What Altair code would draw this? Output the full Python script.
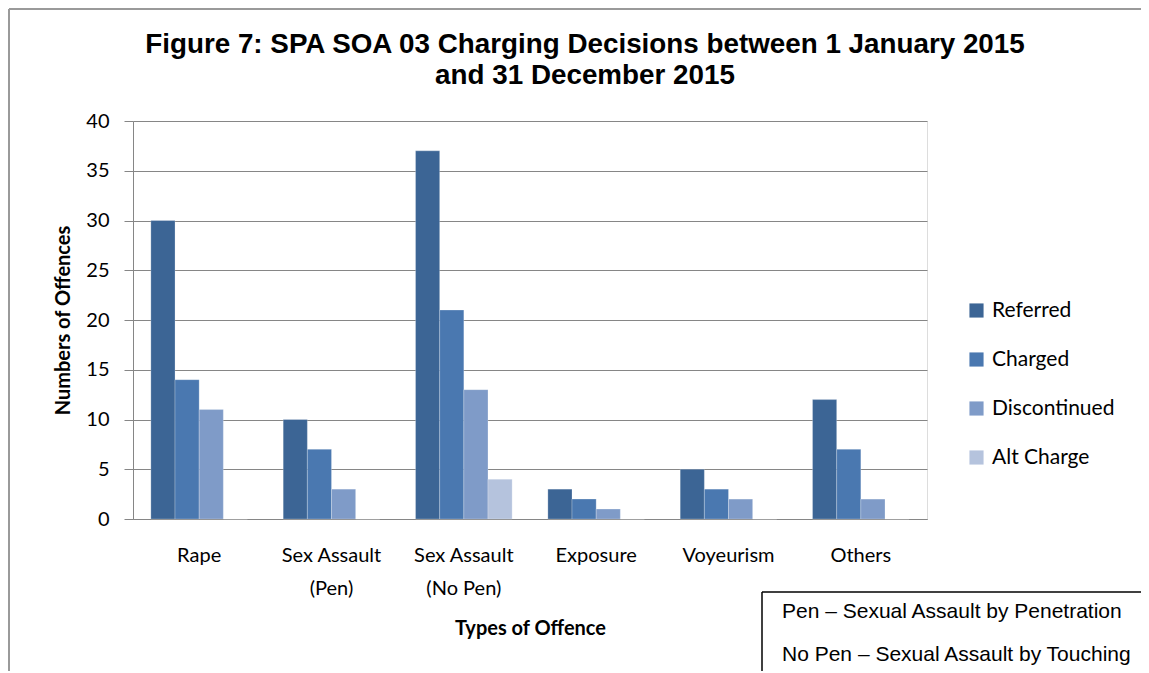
import altair as alt
import pandas as pd

categories = ["Rape", "Sex Assault|(Pen)", "Sex Assault|(No Pen)", "Exposure", "Voyeurism", "Others"]
series = ["Referred", "Charged", "Discontinued", "Alt Charge"]
referred = [30, 10, 37, 3, 5, 12]
charged = [14, 7, 21, 2, 3, 7]
discontinued = [11, 3, 13, 1, 2, 2]
alt_charge = [0, 0, 4, 0, 0, 0]
colors = ["#3C6595", "#4A78B0", "#7F9BC8", "#B5C3DD"]
title_lines = ["Figure 7: SPA SOA 03 Charging Decisions between 1 January 2015",
               "and 31 December 2015"]
notes = ["Pen \u2013 Sexual Assault by Penetration", "No Pen \u2013 Sexual Assault by Touching"]

rows = []
for s, vals in zip(series, [referred, charged, discontinued, alt_charge]):
    for c, v in zip(categories, vals):
        rows.append({"Type": c, "Series": s, "Value": v})
df = pd.DataFrame(rows)

W, H = 794, 398
LABEL_FONT = "Lato"

bars = alt.Chart(df).mark_bar(stroke="white", strokeWidth=0.4, strokeOpacity=0.6).encode(
    x=alt.X("Type:N", sort=categories,
            scale=alt.Scale(paddingInner=0.27, paddingOuter=0.135),
            axis=alt.Axis(title="Types of Offence", labelAngle=0, ticks=False,
                          labelExpr="split(datum.label, '|')",
                          labelFontSize=20, labelLineHeight=33, labelPadding=26,
                          labelBaseline="top",
                          titleFontSize=20, titleFontWeight="bold", titlePadding=20,
                          domainColor="#868686", labelFont=LABEL_FONT, titleFont=LABEL_FONT,
                          labelColor="black", titleColor="black")),
    xOffset=alt.XOffset("Series:N", sort=series, scale=alt.Scale(paddingInner=0, paddingOuter=0)),
    y=alt.Y("Value:Q", scale=alt.Scale(domain=[0, 40]),
            axis=alt.Axis(title="Numbers of Offences", values=list(range(0, 41, 5)),
                          tickSize=9, labelPadding=15, labelFontSize=20,
                          titleFontSize=20, titleFontWeight="bold", titlePadding=12,
                          gridColor="#868686", domainColor="#868686", tickColor="#868686",
                          labelFont=LABEL_FONT, titleFont=LABEL_FONT,
                          labelColor="black", titleColor="black")),
    color=alt.Color("Series:N", sort=series,
                    scale=alt.Scale(domain=series, range=colors),
                    legend=alt.Legend(title=None, orient="none", legendX=833, legendY=179,
                                      symbolType="square", symbolSize=200, symbolStrokeWidth=0,
                                      labelFontSize=21, labelFont=LABEL_FONT, labelColor="black",
                                      rowPadding=27, labelOffset=5)),
)

one = pd.DataFrame([{"k": 0}])

left_border = alt.Chart(one).mark_rule(color="#9a9a9a", strokeWidth=2).encode(
    x=alt.value(-124), y=alt.value(-112), y2=alt.value(560))
top_border = alt.Chart(one).mark_rule(color="#9a9a9a", strokeWidth=2).encode(
    x=alt.value(-124), x2=alt.value(1020), y=alt.value(-112))

box_left = alt.Chart(one).mark_rule(color="black", strokeWidth=1.5).encode(
    x=alt.value(629), y=alt.value(471), y2=alt.value(560))
box_top = alt.Chart(one).mark_rule(color="black", strokeWidth=1.5).encode(
    x=alt.value(629), x2=alt.value(1020), y=alt.value(471))

def text_layer(txt, x, y, size, font, weight="normal", align="left"):
    return alt.Chart(one).mark_text(align=align, baseline="middle", font=font,
                                    fontSize=size, fontWeight=weight, color="black").encode(
        x=alt.value(x), y=alt.value(y), text=alt.value(txt))

title1 = text_layer(title_lines[0], 452, -76, 27.8, "Liberation Sans", "bold", "center")
title2 = text_layer(title_lines[1], 452, -45, 27.8, "Liberation Sans", "bold", "center")
note1 = text_layer(notes[0], 649, 491, 21, "Liberation Sans")
note2 = text_layer(notes[1], 649, 534, 21, "Liberation Sans")

chart = alt.layer(bars, left_border, top_border, box_left, box_top,
                  title1, title2, note1, note2).properties(
    width=W, height=H,
    autosize=alt.AutoSizeParams(type="none"),
    padding={"left": 125, "top": 113, "right": 214, "bottom": 152},
).configure_view(stroke="transparent", strokeWidth=0).configure(background="white")

chart.save("out.html", embed_options={"renderer": "svg", "actions": False})
